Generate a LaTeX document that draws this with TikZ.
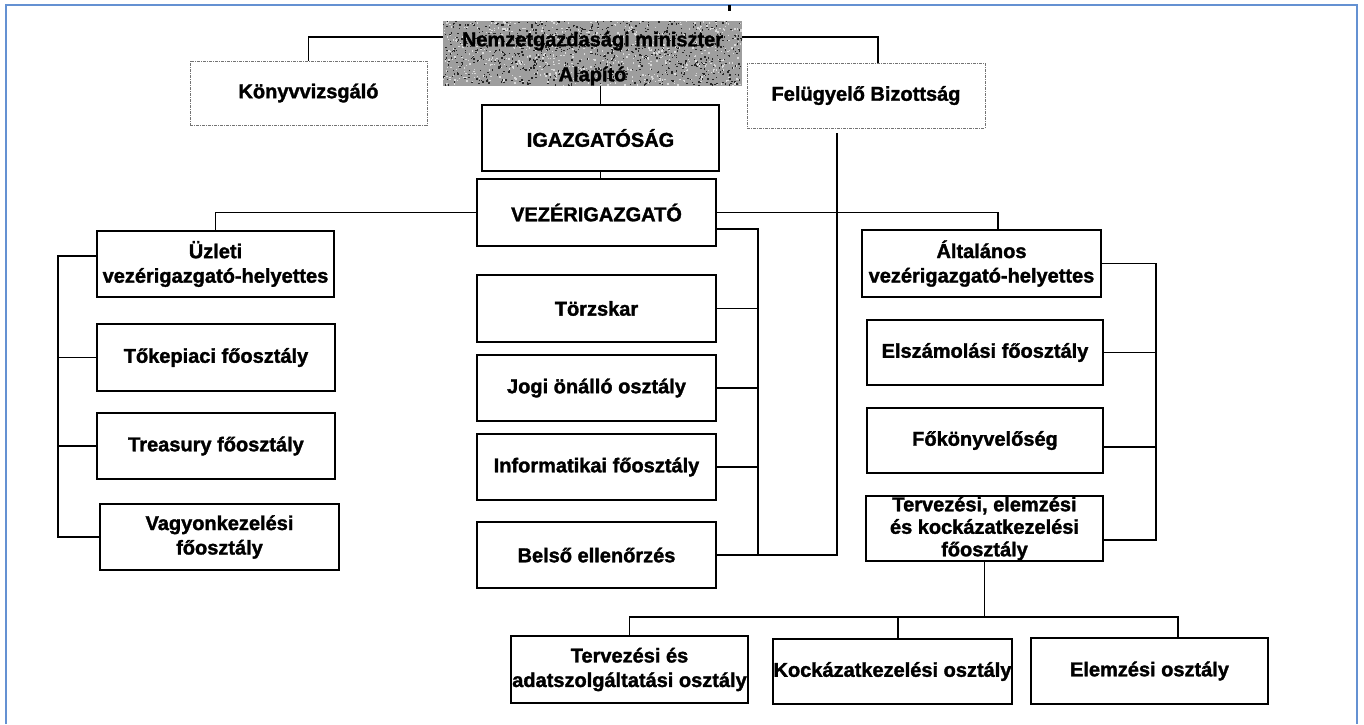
\documentclass[tikz,border=0pt]{standalone}
\usepackage{fontspec}
\setmainfont{Liberation Sans}[BoldFeatures={FakeBold=1.6}]
\definecolor{frameblue}{RGB}{100,145,210}
\newcommand\orgfont{\fontsize{20}{24.5}\selectfont\bfseries}
\begin{document}
\begin{tikzpicture}[x=1pt,y=-1pt,
  ob/.style={draw, line width=1.5pt, inner sep=0pt, align=center, font=\orgfont, fill=white},
  dbox/.style={draw=black!55, line width=0.9pt, dash pattern=on 3pt off 1pt on 1pt off 1pt, inner sep=0pt, align=center, font=\orgfont},
  conn/.style={line width=1.3pt}]
\useasboundingbox (0,0) rectangle (1364,724);
% frame
\draw[frameblue, line width=2pt] (6,724) -- (6,5) -- (1357,5) -- (1357,724);
\draw[line width=3pt] (729,5) -- (729,11);
% top
\pgfmathsetseed{11}
\node[inner sep=0pt, fill=black!38, minimum width=299pt, minimum height=65pt,
  path picture={
    \foreach \i in {1,...,900} {\fill[black!85] ([xshift={299*rnd}, yshift={-65*rnd}]path picture bounding box.north west) rectangle +(1.4pt,1.4pt);}
    \foreach \i in {1,...,650} {\fill[white!85!black] ([xshift={299*rnd}, yshift={-65*rnd}]path picture bounding box.north west) rectangle +(1.4pt,1.4pt);}
  }] (min) at (592.5,53.5) {};
\node[inner sep=0pt, align=center, font=\orgfont] (mintext) at ([yshift=-5pt]min.center) {Nemzetgazdasági miniszter\\[10.5pt]Alapító};
\node[dbox, minimum width=237pt, minimum height=64pt] (konyv) at (308.5,93) {Könyvvizsgáló};
\node[dbox, minimum width=238pt, minimum height=65pt] (fb) at (866,95.5) {Felügyelő Bizottság};
\node[ob, minimum width=237pt, minimum height=66pt] (igaz) at (600.5,138) {IGAZGATÓSÁG};
\node[ob, minimum width=239pt, minimum height=67pt] (vez) at (596.5,212.5) {VEZÉRIGAZGATÓ};
% left column
\node[ob, minimum width=237pt, minimum height=66pt] (uzl) at (215.5,264) {Üzleti\\vezérigazgató-helyettes};
\node[ob, minimum width=238pt, minimum height=67pt] (toke) at (216,357.5) {Tőkepiaci főosztály};
\node[ob, minimum width=238pt, minimum height=66pt] (treas) at (216,446) {Treasury főosztály};
\node[ob, minimum width=239pt, minimum height=66pt] (vagy) at (219.5,537) {Vagyonkezelési\\főosztály};
% centre column
\node[ob, minimum width=239pt, minimum height=67pt] (torzs) at (596.5,308.5) {Törzskar};
\node[ob, minimum width=239pt, minimum height=66pt] (jogi) at (596.5,388) {Jogi önálló osztály};
\node[ob, minimum width=239pt, minimum height=66pt] (info) at (596.5,467) {Informatikai főosztály};
\node[ob, minimum width=239pt, minimum height=66pt] (belso) at (596.5,555) {Belső ellenőrzés};
% right column
\node[ob, minimum width=239pt, minimum height=67pt] (alt) at (981.5,263.5) {Általános\\vezérigazgató-helyettes};
\node[ob, minimum width=236pt, minimum height=65pt] (elsz) at (985,352.5) {Elszámolási főosztály};
\node[ob, minimum width=236pt, minimum height=65pt] (fok) at (985,440.5) {Főkönyvelőség};
\node[ob, minimum width=237pt, minimum height=65pt, font=\fontsize{20}{22.5}\selectfont\bfseries] (terv) at (984.5,528.5) {Tervezési, elemzési\\és kockázatkezelési\\főosztály};
% bottom row
\node[ob, minimum width=237pt, minimum height=67pt] (tadat) at (629.5,669.5) {Tervezési és\\adatszolgáltatási osztály};
\node[ob, minimum width=239pt, minimum height=65pt] (kock) at (892.5,671.5) {Kockázatkezelési osztály};
\node[ob, minimum width=237pt, minimum height=66pt] (elem) at (1149.5,671) {Elemzési osztály};
% bus coordinates
\coordinate (lb) at (58,0);
\coordinate (cb) at (758,0);
\coordinate (rb) at (1156,0);
\coordinate (fbv) at (837,133);
\coordinate (bb) at (0,617);
\coordinate (tervc) at ([yshift=-11.5pt]terv.east);
\coordinate (fokc) at ([yshift=-6.5pt]fok.east);
% connectors top
\draw[conn] ([yshift=16.5pt]min.west) -| (konyv.north);
\draw[conn] ([yshift=16.5pt]min.east) -| ([xshift=12pt]fb.north);
\draw[conn] (igaz.north |- min.south) -- (igaz.north);
\draw[conn] (igaz.south) -- (igaz.south |- vez.north);
\draw[conn] (vez.west) -| (uzl.north);
\draw[conn] (vez.east) -| ([xshift=16.5pt]alt.north);
% left bus
\draw[conn] ([yshift=8pt]uzl.west) -| (lb |- vagy.west) -- (vagy.west);
\draw[conn] (toke.west) -- (lb |- toke.west);
\draw[conn] (treas.west) -- (lb |- treas.west);
% centre bus
\draw[conn] ([yshift=-16.5pt]vez.east) -| (cb |- belso.east) -- (belso.east);
\draw[conn] (torzs.east) -- (cb |- torzs.east);
\draw[conn] (jogi.east) -- (cb |- jogi.east);
\draw[conn] (info.east) -- (cb |- info.east);
\draw[conn] (fbv) -- (fbv |- belso.east) -- (cb |- belso.east);
% right bus
\draw[conn] (alt.east) -| (rb |- tervc) -- (tervc);
\draw[conn] (elsz.east) -- (rb |- elsz.east);
\draw[conn] (fokc) -- (rb |- fokc);
% bottom bus
\draw[conn] (terv.south) -- (terv.south |- bb);
\draw[conn] (tadat.north) -- (tadat.north |- bb) -- ([xshift=28.5pt]elem.north |- bb) -- ([xshift=28.5pt]elem.north);
\draw[conn] ([xshift=5.5pt]kock.north) -- ([xshift=5.5pt]kock.north |- bb);
\end{tikzpicture}
\end{document}
